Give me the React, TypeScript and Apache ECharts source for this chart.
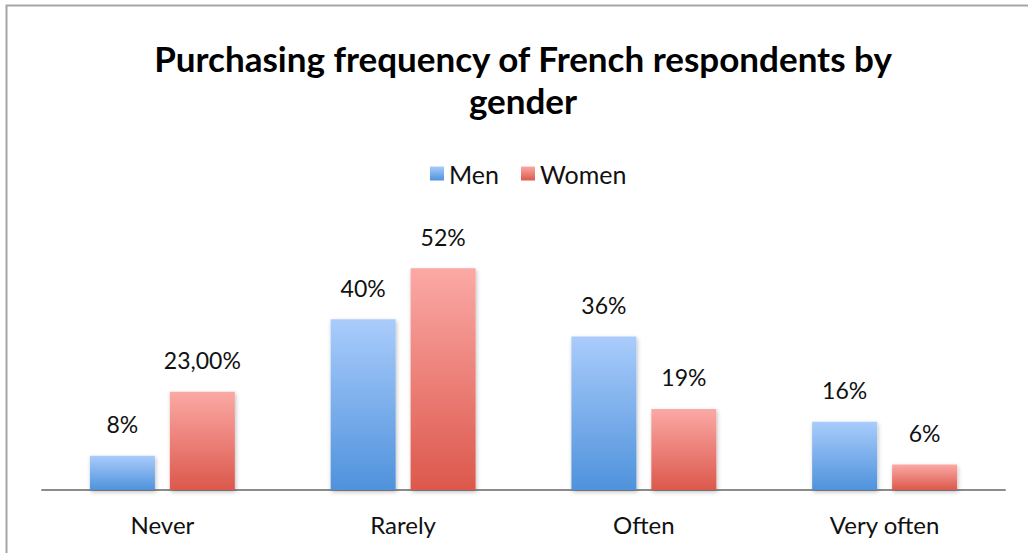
import React, { useEffect, useRef } from "react";
import * as echarts from "echarts";

const categories = ["Never", "Rarely", "Often", "Very often"];
const menValues = [8, 40, 36, 16];
const womenValues = [23, 52, 19, 6];
const menLabels = ["8%", "40%", "36%", "16%"];
const womenLabels = ["23,00%", "52%", "19%", "6%"];
const seriesNames = ["Men", "Women"];
const titleText = "Purchasing frequency of French respondents by\ngender";

const FONT = "Lato, 'Open Sans', sans-serif";

export default function App() {
  const ref = useRef<HTMLDivElement>(null);
  useEffect(() => {
    document.body.style.margin = "0";
    const chart = echarts.init(ref.current!, null, { renderer: "svg" });
    const grad = (top: string, bottom: string) =>
      new echarts.graphic.LinearGradient(0, 0, 0, 1, [
        { offset: 0, color: top },
        { offset: 1, color: bottom },
      ]);
    const menColor = grad("#a9ccfb", "#4f92dc");
    const womenColor = grad("#fba9a5", "#dc584c");
    const mkLabel = (labels: string[]) => ({
      show: true,
      position: "top",
      distance: 20,
      fontFamily: FONT,
      fontSize: 23,
      color: "#111",
      formatter: (p: any) => labels[p.dataIndex],
    });
    chart.setOption({
      animation: false,
      backgroundColor: "#fff",
      title: {
        text: titleText,
        left: 518,
        textAlign: "center",
        top: 32,
        textStyle: {
          fontFamily: FONT,
          fontWeight: "bold",
          fontSize: 35,
          lineHeight: 42,
          color: "#000",
        },
      },
      legend: {
        data: seriesNames,
        top: 156,
        left: 425,
        itemWidth: 14,
        itemHeight: 14,
        itemGap: 22,
        icon: "rect",
        textStyle: { fontFamily: FONT, fontSize: 25, color: "#111" },
      },
      grid: { left: 42, right: 23, top: 234, bottom: 63 },
      xAxis: {
        type: "category",
        data: categories,
        axisLine: { lineStyle: { color: "#8c8c8c", width: 2 } },
        axisTick: { show: false },
        axisLabel: { fontFamily: FONT, fontSize: 24, color: "#111", margin: 22 },
      },
      yAxis: {
        type: "value",
        min: 0,
        max: 60,
        show: false,
        splitLine: { show: false },
      },
      series: [
        {
          name: seriesNames[0],
          type: "bar",
          data: menValues,
          barWidth: 65,
          barGap: "23%",
          itemStyle: {
            color: menColor,
            shadowColor: "rgba(0,0,0,0.25)",
            shadowBlur: 4,
            shadowOffsetX: 1,
            shadowOffsetY: 2,
          },
          label: mkLabel(menLabels),
        },
        {
          name: seriesNames[1],
          type: "bar",
          data: womenValues,
          barWidth: 65,
          itemStyle: {
            color: womenColor,
            shadowColor: "rgba(0,0,0,0.25)",
            shadowBlur: 4,
            shadowOffsetX: 1,
            shadowOffsetY: 2,
          },
          label: mkLabel(womenLabels),
        },
      ],
      graphic: [
        {
          type: "rect",
          shape: { x: 6.5, y: 5.5, width: 1100, height: 600 },
          style: { fill: "none", stroke: "#a6a6a6", lineWidth: 2 },
          silent: true,
        },
      ],
    });
    return () => chart.dispose();
  }, []);
  return <div ref={ref} style={{ width: 1028, height: 553 }} />;
}
